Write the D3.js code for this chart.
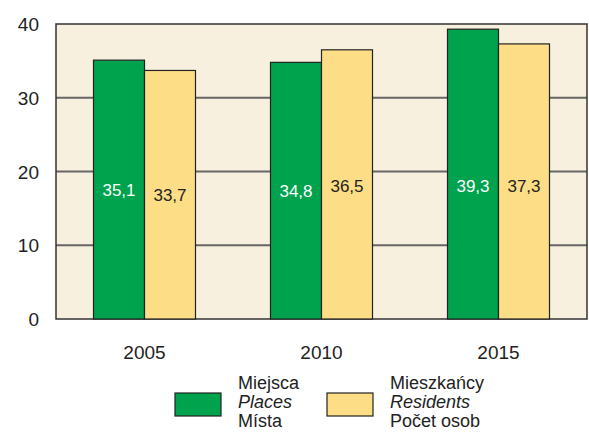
<!DOCTYPE html>
<html><head><meta charset="utf-8">
<script src="https://cdn.jsdelivr.net/npm/d3@7"></script>
<style>body{margin:0;background:#fff}svg{display:block}text{font-family:"Liberation Sans",Arial,sans-serif}</style>
</head><body><svg id="c" width="589" height="432"></svg>
<script>
const years = ["2005","2010","2015"];
const places = [35.1, 34.8, 39.3];
const residents = [33.7, 36.5, 37.3];
const yTicks = [0,10,20,30,40];
const seriesNames = [["Miejsca","Places","Místa"],["Mieszkańcy","Residents","Počet osob"]];
const colors = ["#00a34d","#fddd85"];
const fmt = v => String(v.toFixed(1)).replace(".", ",");

const svg = d3.select("#c");
const m = {l:56, t:24, r:587, b:319};
const x = d3.scaleBand().domain(years).range([m.l, m.r]);
const y = d3.scaleLinear().domain([0,40]).range([m.b, m.t]);
const bw = 51;

svg.append("rect").attr("x",m.l).attr("y",m.t).attr("width",m.r-m.l).attr("height",m.b-m.t)
  .attr("fill","#f8f0df");
svg.append("g").selectAll("line").data(yTicks.filter(d=>d>0&&d<40)).join("line")
  .attr("x1",m.l).attr("x2",m.r).attr("y1",d=>y(d)).attr("y2",d=>y(d))
  .attr("stroke","#666").attr("stroke-width",2);
svg.append("rect").attr("x",m.l).attr("y",m.t).attr("width",m.r-m.l).attr("height",m.b-m.t)
  .attr("fill","none").attr("stroke","#333").attr("stroke-width",1.5);

const series = [places, residents];
series.forEach((vals, si) => {
  const g = svg.append("g");
  g.selectAll("rect").data(vals).join("rect")
    .attr("x",(d,i)=>x(years[i])+x.bandwidth()/2 - bw + si*bw)
    .attr("y",d=>y(d)).attr("width",bw).attr("height",d=>y(0)-y(d))
    .attr("fill",colors[si]).attr("stroke","#222").attr("stroke-width",1.2);
  g.selectAll("text").data(vals).join("text")
    .attr("x",(d,i)=>x(years[i])+x.bandwidth()/2 - bw/2 + si*bw)
    .attr("y",d=>y(Math.min(d,36)/2)+6)
    .attr("text-anchor","middle").attr("font-size",17)
    .attr("fill",si===0?"#fff":"#222").text(d=>fmt(d));
});

// y axis labels
svg.append("g").selectAll("text").data(yTicks).join("text")
  .attr("x",39).attr("y",d=>y(d)+7).attr("text-anchor","end")
  .attr("font-size",19).attr("fill","#222").text(d=>d);
// x axis labels
svg.append("g").selectAll("text").data(years).join("text")
  .attr("x",d=>x(d)+x.bandwidth()/2).attr("y",359).attr("text-anchor","middle")
  .attr("font-size",19).attr("fill","#222").text(d=>d);

// legend
const lx = [175, 327];
seriesNames.forEach((names, si) => {
  svg.append("rect").attr("x",lx[si]).attr("y",393).attr("width",46).attr("height",23)
    .attr("fill",colors[si]).attr("stroke","#222").attr("stroke-width",1.2);
  names.forEach((t, k) => {
    svg.append("text").attr("x",lx[si]+63).attr("y",389+k*19)
      .attr("font-size",18).attr("fill","#222")
      .attr("font-style",k===1?"italic":"normal").text(t);
  });
});
</script></body></html>
